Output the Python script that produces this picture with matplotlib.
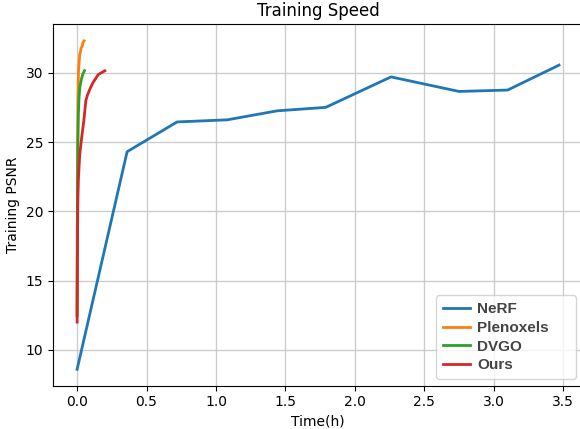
import matplotlib
matplotlib.use("Agg")
import matplotlib.pyplot as plt

# NeRF
nerf_t = [0.0, 0.36, 0.72, 1.08, 1.44, 1.79, 2.26, 2.75, 3.10, 3.47]
nerf_psnr = [8.6, 24.3, 26.45, 26.6, 27.25, 27.5, 29.7, 28.65, 28.75, 30.55]

# Plenoxels
plen_t = [0.0, 0.002, 0.004, 0.006, 0.01, 0.015, 0.019, 0.024, 0.029, 0.036, 0.043, 0.05]
plen_psnr = [12.5, 20.0, 25.0, 28.2, 30.1, 30.8, 31.35, 31.5, 31.8, 31.9, 32.2, 32.3]

# DVGO
dvgo_t = [0.0, 0.002, 0.005, 0.009, 0.014, 0.019, 0.026, 0.034, 0.043, 0.053]
dvgo_psnr = [12.5, 20.0, 24.5, 27.0, 28.2, 28.9, 29.3, 29.66, 29.95, 30.15]

# Ours
ours_t = [0.0, 0.002, 0.005, 0.009, 0.014, 0.019, 0.029, 0.039, 0.048, 0.056,
          0.063, 0.075, 0.091, 0.115, 0.135, 0.151, 0.175, 0.2]
ours_psnr = [12.0, 17.0, 20.5, 22.2, 23.2, 24.1, 25.0, 25.8, 26.5, 27.3,
             28.0, 28.4, 28.8, 29.3, 29.6, 29.86, 30.0, 30.14]

fig = plt.figure(figsize=(5.8, 4.29), dpi=100)
ax = fig.add_axes([0.0914, 0.101, 0.914, 0.842])

ax.plot(nerf_t, nerf_psnr, label="NeRF", linewidth=2)
ax.plot(plen_t, plen_psnr, label="Plenoxels", linewidth=2)
ax.plot(dvgo_t, dvgo_psnr, label="DVGO", linewidth=2)
ax.plot(ours_t, ours_psnr, label="Ours", linewidth=2)

ax.grid(True, color="#cccccc", linewidth=1)
ax.set_title("Training Speed", fontsize=12)
ax.set_xlabel("Time(h)")
ax.set_ylabel("Training PSNR")
ax.set_xticks([0.0, 0.5, 1.0, 1.5, 2.0, 2.5, 3.0, 3.5])
ax.set_yticks([10, 15, 20, 25, 30])

# wide legend box like the original
leg = ax.legend(loc="lower left", bbox_to_anchor=(0.7226, 0.0185, 0.2642, 0.227),
                mode="expand", borderaxespad=0, labelspacing=0.3,
                borderpad=0.45, handlelength=1.8, handletextpad=0.45,
                prop={"family": "Liberation Sans", "weight": "bold", "size": 11})
for t in leg.get_texts():
    t.set_color("#444444")

fig.savefig("out.png", dpi=100)
